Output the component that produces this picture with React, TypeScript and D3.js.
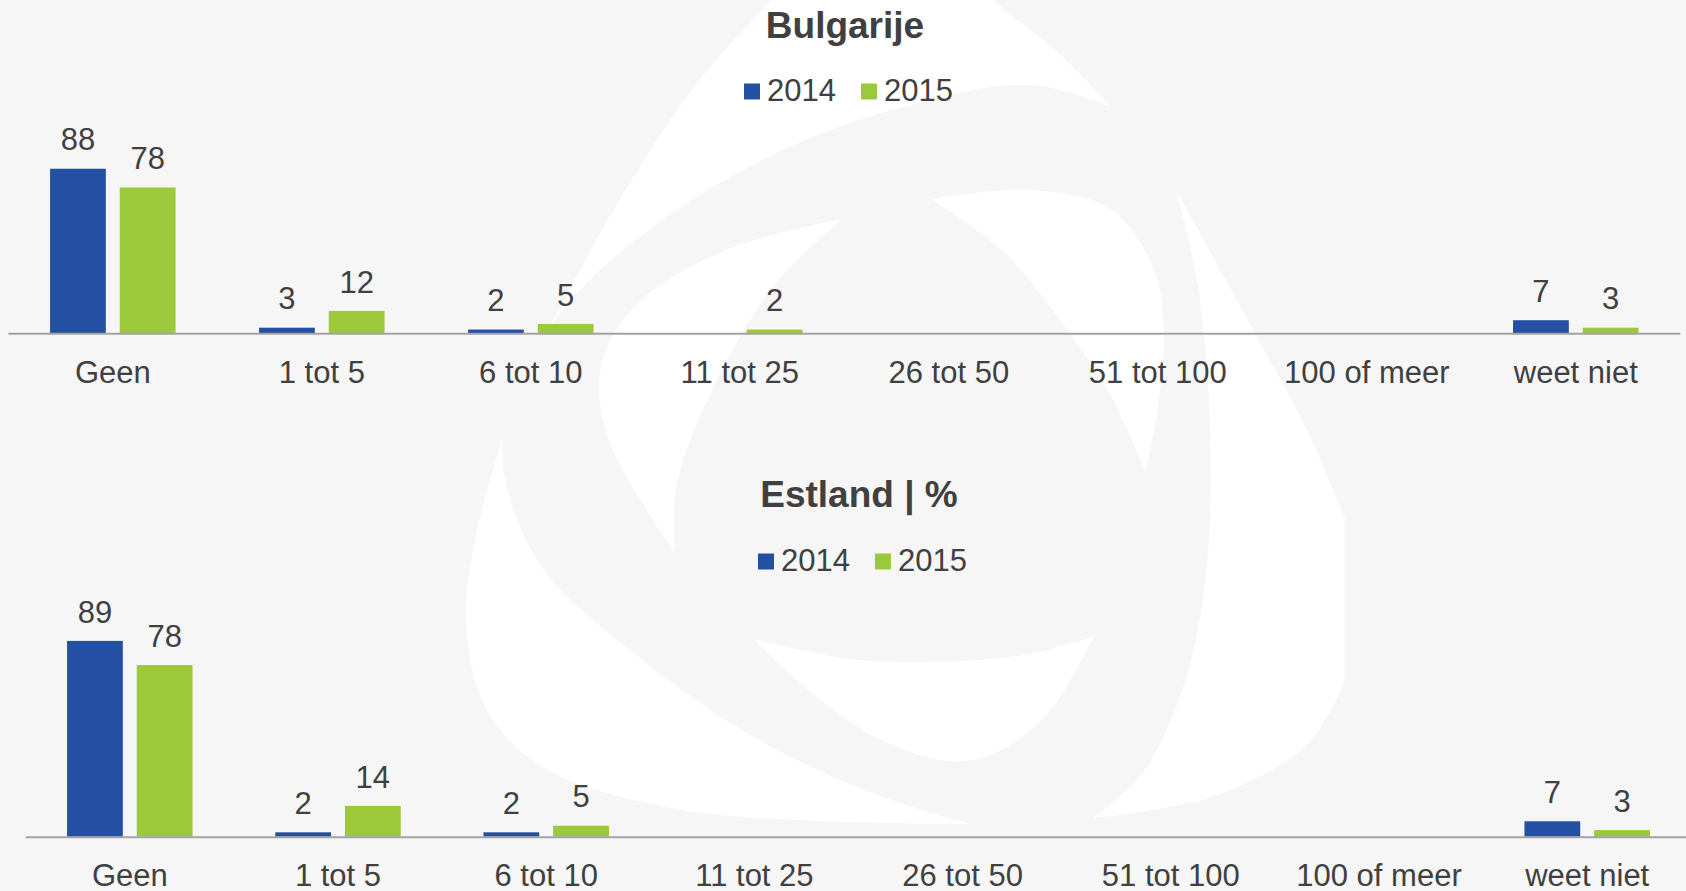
import React from "react";
import * as d3 from "d3";

const categories = ["Geen", "1 tot 5", "6 tot 10", "11 tot 25", "26 tot 50", "51 tot 100", "100 of meer", "weet niet"];
const seriesNames = ["2014", "2015"];
const bulgarije2014 = [88, 3, 2, 0, 0, 0, 0, 7];
const bulgarije2015 = [78, 12, 5, 2, 0, 0, 0, 3];
const estland2014 = [89, 2, 2, 0, 0, 0, 0, 7];
const estland2015 = [78, 14, 5, 0, 0, 0, 0, 3];
const titles = ["Bulgarije", "Estland | %"];

const W = 1686;
const H = 891;
const BLUE = "#2450a3";
const GREEN = "#9bc93b";
const TEXT = "#404040";
const FONT = "'Liberation Sans', Arial, Helvetica, sans-serif";
const BG = "#f6f6f6";

type P = [number, number];

// watermark (decorative background logo)
const wm: P[][][] = [
  [
    [[548.6, 329.6], [603.7, 227], [695.5, 85], [800, -30]],
    [[975, -30], [994, 0], [1055, 50], [1111, 107]],
    [[1111, 107], [1032, 85], [910, 105], [787, 148], [677, 210], [585.3, 284], [548.6, 329.6]],
  ],
  [
    [[842.5, 218.8], [726, 250], [634, 307], [600.6, 369], [610, 443], [674, 551]],
    [[674, 551], [677, 483], [714, 386], [775, 284], [842.5, 218.8]],
  ],
  [
    [[931, 199], [1032, 190], [1112, 210], [1155, 273], [1164, 341], [1155, 426], [1145.5, 471.6]],
    [[1145.5, 471.6], [1112, 398], [1063, 324], [1001.6, 250], [931, 199]],
  ],
  [
    [[1176, 190], [1197.6, 284], [1210, 426], [1206.7, 568], [1185, 682], [1142.5, 773], [1093.5, 818]],
    [[1093.5, 818], [1216, 795.5], [1307.8, 744], [1344.5, 682]],
    [[1344.5, 682], [1344.5, 517]],
    [[1344.5, 517], [1307.8, 432], [1246.5, 318], [1176, 190]],
  ],
  [
    [[753.7, 639], [848.6, 659], [940.4, 662], [1032, 653.5], [1093.5, 636.4]],
    [[1093.5, 636.4], [1050.6, 710], [1001.6, 750], [952.7, 761.5], [879, 738.7], [811.8, 693], [753.7, 639]],
  ],
  [
    [[502.7, 437.5], [475, 540], [466, 625], [487, 710], [542.5, 767], [665, 807], [818, 821], [971, 824]],
    [[971, 824], [879, 795.5], [756.7, 738.7], [634, 653.5], [542.5, 568], [505.7, 483], [502.7, 437.5]],
  ],
];

function shapePath(segs: P[][]): string {
  const line = d3.line<P>().curve(d3.curveCatmullRom.alpha(0.5));
  let d = "";
  segs.forEach((s, i) => {
    const p = line(s) || "";
    d += i === 0 ? p : p.replace(/^M/, "L");
  });
  return d + "Z";
}

type Panel = {
  title: string;
  values: number[][];
  range: [number, number];
  baseline: number;
  pxPer100: number;
  titleX: number;
  titleY: number;
  legendX: number;
  legendY: number;
};

const panels: Panel[] = [
  {
    title: titles[0],
    values: [bulgarije2014, bulgarije2015],
    range: [8.3, 1680.3],
    baseline: 333.3,
    pxPer100: 187,
    titleX: 845,
    titleY: 38,
    legendX: 744,
    legendY: 101,
  },
  {
    title: titles[1],
    values: [estland2014, estland2015],
    range: [25.7, 1691.3],
    baseline: 836.7,
    pxPer100: 220,
    titleX: 859,
    titleY: 507,
    legendX: 758,
    legendY: 571,
  },
];

function ChartPanel({ p }: { p: Panel }) {
  const x0 = d3.scaleBand<string>().domain(categories).range(p.range).paddingInner(0).paddingOuter(0);
  const groupW = 125.5;
  const x1 = d3.scaleBand<string>().domain(seriesNames).range([0, groupW]).paddingInner(0.2);
  const y = d3.scaleLinear().domain([0, 100]).range([p.baseline, p.baseline - p.pxPer100]);
  const colors = [BLUE, GREEN];
  const off = (x0.bandwidth() - groupW) / 2;
  const legendItemGap = 117;
  return (
    <g>
      <text x={p.titleX} y={p.titleY} textAnchor="middle" fontFamily={FONT} fontWeight="bold" fontSize={37} fill={TEXT}>
        {p.title}
      </text>
      {seriesNames.map((s, i) => (
        <g key={s} transform={`translate(${p.legendX + i * legendItemGap},0)`}>
          <rect x={0} y={p.legendY - 17.5} width={16} height={16} fill={colors[i]} />
          <text x={23} y={p.legendY} fontFamily={FONT} fontSize={31} fill={TEXT}>
            {s}
          </text>
        </g>
      ))}
      {categories.map((c, ci) => (
        <g key={c}>
          {seriesNames.map((s, si) => {
            const v = p.values[si][ci];
            if (!v) return null;
            const bx = (x0(c) as number) + off + (x1(s) as number);
            const bw = x1.bandwidth();
            return (
              <g key={s}>
                <rect x={bx} y={y(v)} width={bw} height={y(0) - y(v)} fill={colors[si]} />
                <text x={bx + bw / 2} y={y(v) - 18.3} textAnchor="middle" fontFamily={FONT} fontSize={31} fill={TEXT}>
                  {v}
                </text>
              </g>
            );
          })}
          <text
            x={(x0(c) as number) + x0.bandwidth() / 2}
            y={p.baseline + 49.4}
            textAnchor="middle"
            fontFamily={FONT}
            fontSize={31}
            fill={TEXT}
          >
            {c}
          </text>
        </g>
      ))}
      <line x1={p.range[0]} x2={Math.min(p.range[1], W)} y1={p.baseline + 0.5} y2={p.baseline + 0.5} stroke="#a3a3a3" strokeWidth={2} />
    </g>
  );
}

export default function App() {
  return (
    <svg
      width={W}
      height={H}
      viewBox={`0 0 ${W} ${H}`}
      style={{ position: "absolute", left: 0, top: 0, display: "block", background: BG }}
    >
      <rect x={0} y={0} width={W} height={H} fill={BG} />
      <g>
        {wm.map((s, i) => (
          <path key={i} d={shapePath(s)} fill="#ffffff" />
        ))}
      </g>
      {panels.map((p) => (
        <ChartPanel key={p.title} p={p} />
      ))}
    </svg>
  );
}
